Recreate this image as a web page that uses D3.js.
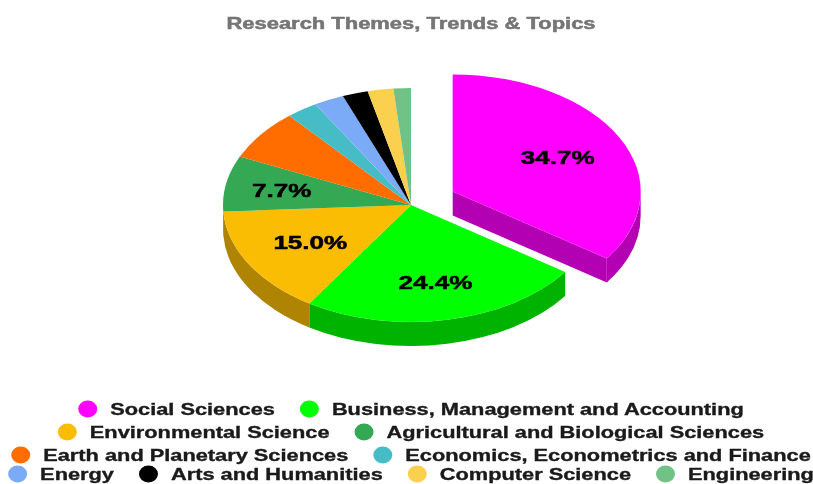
<!DOCTYPE html>
<html><head><meta charset="utf-8">
<script src="https://cdn.jsdelivr.net/npm/d3@7"></script>
<style>html,body{margin:0;padding:0;background:#fff;overflow:hidden}svg{display:block;filter:blur(.35px)}</style>
</head><body><svg id="c" width="813" height="484"></svg>
<script>
const titleText = "Research Themes, Trends & Topics";
const categories = ["Social Sciences","Business, Management and Accounting","Environmental Science","Agricultural and Biological Sciences","Earth and Planetary Sciences","Economics, Econometrics and Finance","Energy","Arts and Humanities","Computer Science","Engineering"];
const values = [34.7,24.4,15.0,7.7,7.0,2.7,2.6,2.2,2.2,1.5];
const colors = ["#ff00ff","#00ff00","#fbbc04","#34a853","#ff6d01","#46bdc6","#7baaf7","#000000","#fcd04f","#71c287"];
const legendRows = [2,2,2,4];
const labelRadius = [.63,.67,.62,.70];

const W=813, H=484, cx=411, cy=205, rx=188, ry=117, depth=24, explode=47, FONT="'Liberation Sans',Arial,sans-serif";
const svg=d3.select("#c");
const pie=d3.pie().sort(null).value(d=>d);
const arcs=pie(values);
const arc=d3.arc().innerRadius(0).outerRadius(rx);
const color=d3.scaleOrdinal().domain(categories).range(colors);

function offset(a,i){ if(i!==0) return [0,0]; const m=(a.startAngle+a.endAngle)/2; return [Math.sin(m)*explode,-Math.cos(m)*explode*ry/rx]; }
const pt=(t,r=1)=>[Math.sin(t)*rx*r,-Math.cos(t)*ry*r];
function wall(t0,t1){
  const a=Math.max(t0,Math.PI/2), b=Math.min(t1,Math.PI*1.5);
  if(b<=a) return null;
  const [x0,y0]=pt(a),[x1,y1]=pt(b);
  return `M${x0},${y0}A${rx},${ry} 0 0 1 ${x1},${y1}L${x1},${y1+depth}A${rx},${ry} 0 0 0 ${x0},${y0+depth}Z`;
}
function dark(c){ const k=d3.rgb(c); return d3.rgb(k.r*.7,k.g*.7,k.b*.7).formatHex(); }

const root=svg.append("g");
arcs.forEach((a,i)=>{
  if(i===0) return;
  const d=wall(a.startAngle,a.endAngle);
  if(d) root.append("path").attr("d",d).attr("transform",`translate(${cx},${cy})`).attr("fill",dark(colors[i]));
});
arcs.forEach((a,i)=>{
  if(i===0) return;
  root.append("path").attr("d",arc(a)).attr("transform",`translate(${cx},${cy}) scale(1,${ry/rx})`).attr("fill",colors[i]);
});
{
  const a=arcs[0],[dx,dy]=offset(a,0),g=root.append("g").attr("transform",`translate(${cx+dx},${cy+dy})`);
  const [ex,ey]=pt(a.endAngle);
  g.append("path").attr("d",`M0,0L${ex},${ey}L${ex},${ey+depth}L0,${depth}Z`).attr("fill",dark(colors[0]));
  g.append("path").attr("d",wall(a.startAngle,a.endAngle)).attr("fill",dark(colors[0]));
  g.append("path").attr("d",arc(a)).attr("transform",`scale(1,${ry/rx})`).attr("fill",colors[0]);
}
function stretched(sel,k){ sel.each(function(){ const w=this.getComputedTextLength(); d3.select(this).attr("textLength",w*k).attr("lengthAdjust","spacingAndGlyphs"); }); }

arcs.forEach((a,i)=>{
  const p=a.data/d3.sum(values);
  if(p<0.075) return;
  const m=(a.startAngle+a.endAngle)/2,[dx,dy]=offset(a,i),[x,y]=pt(m,labelRadius[i]);
  const label=values[i].toFixed(1)+"%";
  const t=root.append("text").attr("x",cx+dx+x).attr("y",cy+dy+y+7).attr("text-anchor","middle")
    .attr("font-family",FONT).attr("font-weight",700).attr("font-size",19).attr("fill","#000")
    .attr("stroke","#000").attr("stroke-width",.5).text(label);
  stretched(t,1.37);
});
const tt=svg.append("text").attr("x",411).attr("y",29).attr("text-anchor","middle")
  .attr("font-family",FONT).attr("font-weight",700).attr("font-size",16.5).attr("fill","#757575")
  .attr("stroke","#757575").attr("stroke-width",.5).text(titleText);
stretched(tt,1.33);

const k=1.32, fs=16.5, mw=9.5, mh=8.5, tg=13, ig=25, rowY=[409,432,455,474];
let idx=0;
legendRows.forEach((n,r)=>{
  const items=d3.range(n).map(j=>idx+j); idx+=n;
  const row=svg.append("g");
  const texts=items.map(i=>row.append("text").attr("y",rowY[r]+6).attr("font-family",FONT).attr("font-weight",700).attr("font-size",fs).attr("fill","#1a1a1a").attr("stroke","#1a1a1a").attr("stroke-width",.35).text(categories[i]));
  const ws=texts.map(t=>t.node().getComputedTextLength()*k);
  const total=d3.sum(ws)+n*(mw*2+tg)+(n-1)*ig;
  let x=411-total/2;
  items.forEach((i,j)=>{
    row.append("ellipse").attr("cx",x+mw).attr("cy",rowY[r]).attr("rx",mw).attr("ry",mh).attr("fill",color(categories[i]));
    texts[j].attr("x",x+mw*2+tg).attr("textLength",ws[j]).attr("lengthAdjust","spacingAndGlyphs");
    x+=mw*2+tg+ws[j]+ig;
  });
});
</script></body></html>
